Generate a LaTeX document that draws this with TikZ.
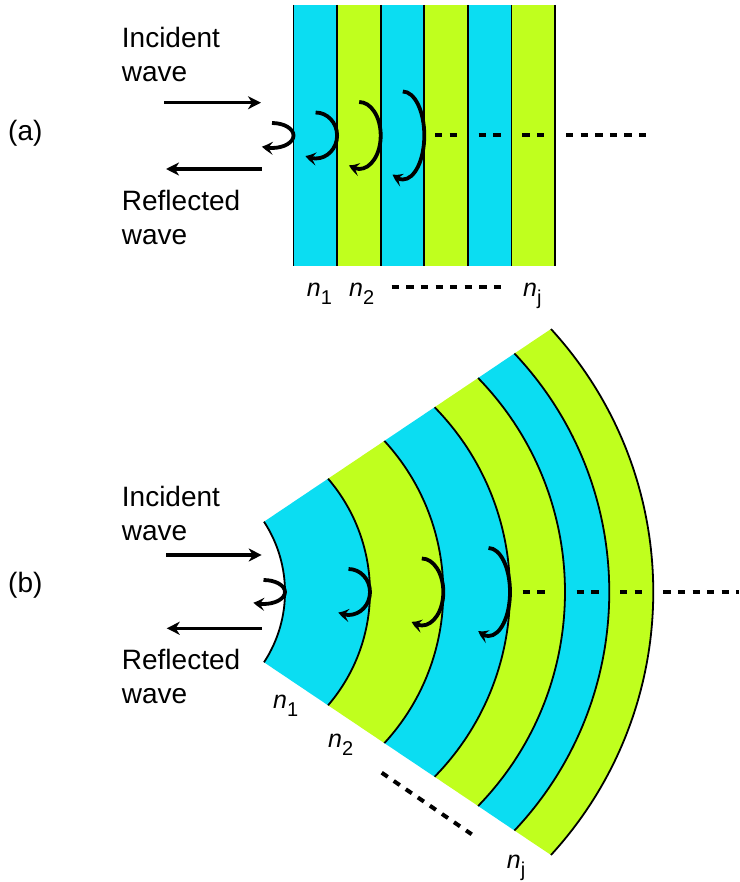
\documentclass[tikz,border=0pt]{standalone}
\usepackage{fontspec}
\setmainfont{Liberation Sans}
\usetikzlibrary{arrows.meta,bending}
\definecolor{layercyan}{HTML}{0BDDF2}
\definecolor{layerlime}{HTML}{C0FF1E}
\newcommand{\layern}[1]{\textit{n}\raisebox{-8pt}{\fontsize{20}{20}\selectfont #1}}

\begin{document}
\begin{tikzpicture}[x=1pt,y=-1pt,
    wavetext/.style={font=\fontsize{28}{34}\selectfont,align=left,inner sep=0pt,anchor=base west},
    nlabel/.style={font=\fontsize{25}{25}\selectfont,inner sep=0pt,anchor=base west},
    wavearrow/.style={line width=3.6pt,-{Stealth[length=13pt,width=13pt,inset=4pt]}},
    bounce/.style={line width=3.8pt,-{Stealth[length=11pt,width=13pt,inset=4.5pt,bend]}},
    boundary/.style={line width=1.8pt},
    dots/.style={line width=4pt,dash pattern=on 7.3pt off 7.3pt}]
  \useasboundingbox (0,0) rectangle (739,882);

  % (a) planar layers
  \foreach \i/\c in {0/layercyan,1/layerlime,2/layercyan,3/layerlime,4/layercyan,5/layerlime}
    \fill[\c] (293.5+43.6*\i,5) rectangle ++(43.6,261);
  \foreach \i in {0,...,6}
    \draw[boundary] (293.5+43.6*\i,5) -- ++(0,261);
  \foreach \i/\ry in {0/12.5,1/23,2/33.5,3/44}
    \draw[bounce] (272+43.6*\i,135.5-\ry) arc[start angle=-90,end angle=118,x radius=21.5,y radius=\ry];
  \foreach \xs in {435,478.6,522.2}
    \draw[dots] (\xs,135) -- ++(22,0);
  \draw[dots] (566,135) -- (647,135);

  \node (lblA) [wavetext,anchor=west] at (8,133) {(a)};
  \node (incAtxt) [wavetext] at (121.7,81.7) {Incident\\wave};
  \node (refAtxt) [wavetext] at (121.7,245) {Reflected\\wave};
  \coordinate (incA1) at (164,102.7);
  \coordinate (incA2) at (261,102.7);
  \coordinate (refA1) at (261.7,169);
  \coordinate (refA2) at (166,169);
  \draw[wavearrow] (incA1) -- (incA2);
  \draw[wavearrow] (refA1) -- (refA2);
  \node (nA1) [nlabel] at (306.7,296.7) {\layern{1}};
  \node (nA2) [nlabel] at (349,296.7) {\layern{2}};
  \node (nAj) [nlabel] at (523,296.7) {\layern{j}};
  \draw[dots] (391.7,286.7) -- (501.7,286.7);

  % (b) curved layers
  \foreach \m/\r/\a/\c [remember=\m as \mprev (initially 285),remember=\r as \rprev (initially 128.17),
       remember=\a as \aprev (initially 33.26)] in {370/174.13/40.60/layercyan,443.3/223.26/42.60/layerlime,
      510/264.16/44.39/layercyan,565/306.95/44.20/layerlime,
      609.3/347.41/43.36/layercyan,653.3/389.22/42.51/layerlime}
    \fill[\c] (\m-\r,592) ++(-\a:\r) arc[start angle=-\a,end angle=\a,radius=\r]
      -- ({\mprev-\rprev+\rprev*cos(\aprev)},{592+\rprev*sin(\aprev)})
      arc[start angle=\aprev,end angle=-\aprev,radius=\rprev] -- cycle;
  \foreach \m/\r/\a in {285/128.17/33.26,370/174.13/40.60,443.3/223.26/42.60,
      510/264.16/44.39,565/306.95/44.20,609.3/347.41/43.36,653.3/389.22/42.51}
    \draw[boundary] (\m-\r,592) ++(-\a:\r) arc[start angle=-\a,end angle=\a,radius=\r];
  \foreach \xm/\ry in {285/12,370/23,443.3/33.5,510/44}
    \draw[bounce] (\xm-21.5,592-\ry) arc[start angle=-90,end angle=118,x radius=21.5,y radius=\ry];
  \foreach \xs in {522.7,576.7,620}
    \draw[dots] (\xs,591.7) -- ++(22,0);
  \draw[dots] (663.3,591.7) -- (739,591.7);

  \node (lblB) [wavetext,anchor=west] at (8,585) {(b)};
  \node (incBtxt) [wavetext] at (121.7,540) {Incident\\wave};
  \node (refBtxt) [wavetext] at (121.7,703.3) {Reflected\\wave};
  \coordinate (incB1) at (166,555);
  \coordinate (incB2) at (261.7,555);
  \coordinate (refB1) at (261.7,628.3);
  \coordinate (refB2) at (166.7,628.3);
  \draw[wavearrow] (incB1) -- (incB2);
  \draw[wavearrow] (refB1) -- (refB2);
  \node (nB1) [nlabel] at (273,708) {\layern{1}};
  \node (nB2) [nlabel] at (328,747.3) {\layern{2}};
  \node (nBj) [nlabel] at (506.7,868) {\layern{j}};
  \draw[dots] (381.7,772.7) -- (471.7,834.3);
\end{tikzpicture}
\end{document}
